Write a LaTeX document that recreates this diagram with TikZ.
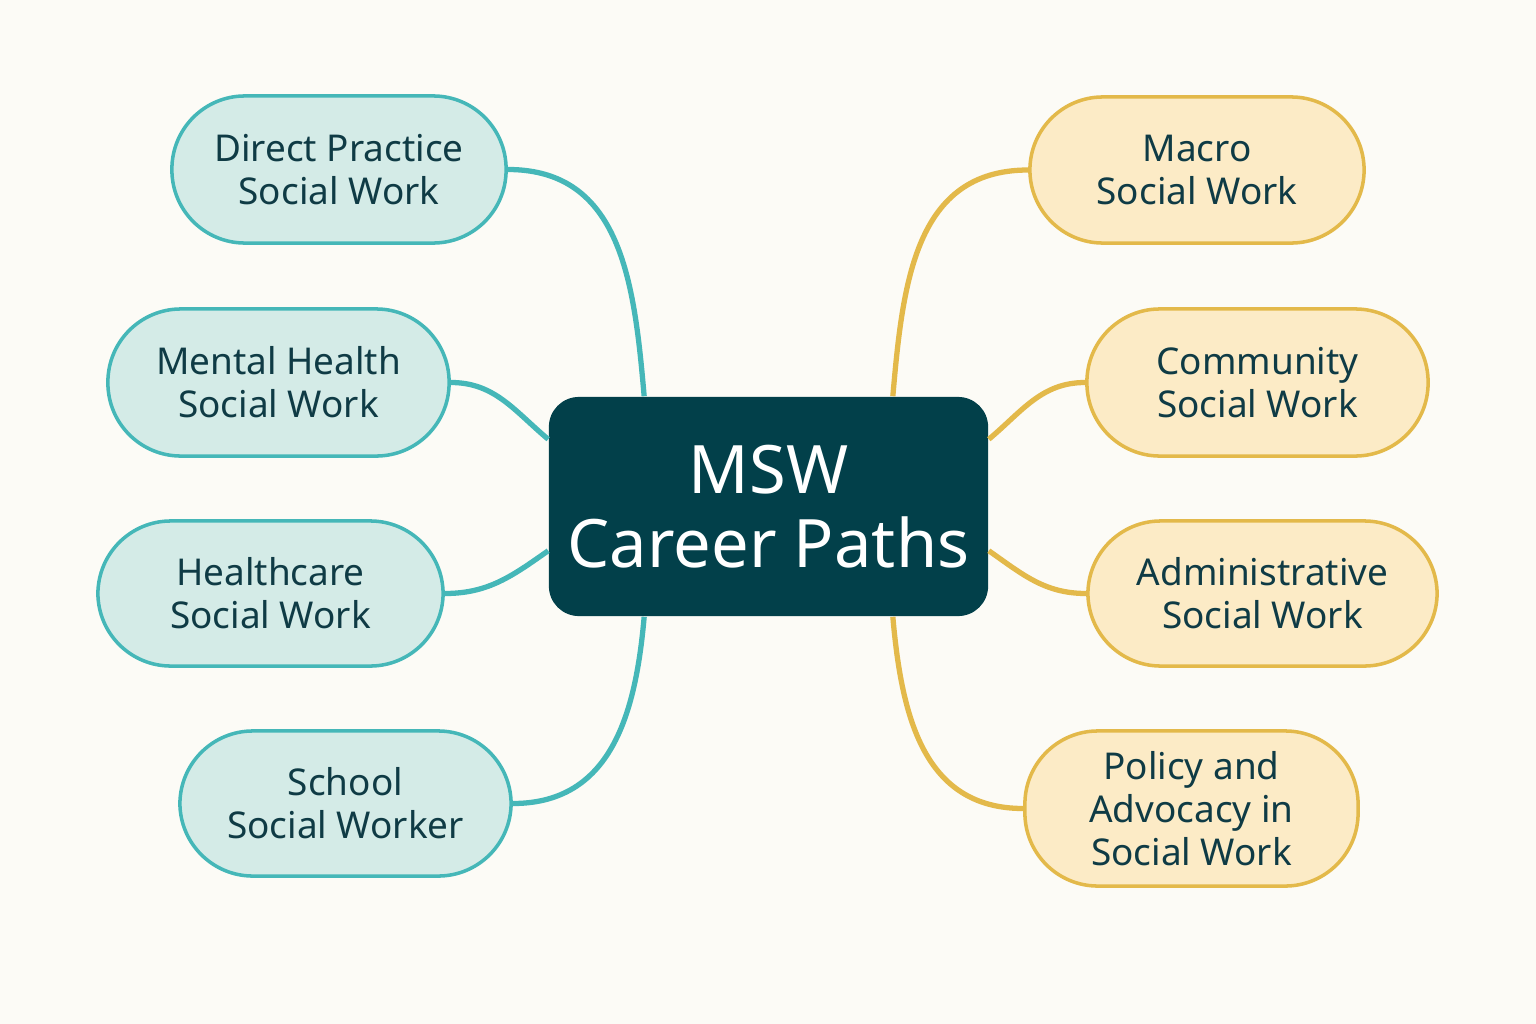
\documentclass[tikz,border=0pt]{standalone}
\usepackage{fontspec}
\setmainfont{Noto Sans}
\usetikzlibrary{calc}
\definecolor{bg}{HTML}{FCFBF6}
\definecolor{ctr}{HTML}{02404A}
\definecolor{tfill}{HTML}{D4EBE7}
\definecolor{tline}{HTML}{45B7B8}
\definecolor{yfill}{HTML}{FCEBC6}
\definecolor{yline}{HTML}{E3B94A}
\definecolor{txt}{HTML}{0F3B45}
\begin{document}
\begin{tikzpicture}[x=0.01cm,y=-0.01cm,
  leaf/.style={rounded corners=73*0.01cm, line width=1pt, align=center, font=\fontsize{10.5}{12.3}\selectfont, text=txt, inner sep=0pt},
  tleaf/.style={leaf, draw=tline, fill=tfill},
  yleaf/.style={leaf, draw=yline, fill=yfill},
  tcon/.style={draw=tline, line width=1.5pt},
  ycon/.style={draw=yline, line width=1.5pt}]
\fill[bg] (0,0) rectangle (1536,1024);
\useasboundingbox (0,0) rectangle (1536,1024);
% connectors first
\coordinate (dummy) at (0,0);
\node[fill=ctr, rounded corners=0.3cm, minimum width=4.39cm, minimum height=2.19cm, text=white, align=center, font=\fontsize{19}{23}\selectfont\bfseries, inner sep=0pt] (c) at (768.5,506.5) {\mdseries MSW\\[-2pt]\mdseries Career Paths};
\node[tleaf, minimum width=3.34cm, minimum height=1.47cm] (d) at (339,169.5) {Direct Practice\\Social Work};
\node[tleaf, minimum width=3.41cm, minimum height=1.47cm] (m) at (278.5,382.5) {Mental Health\\Social Work};
\node[tleaf, minimum width=3.45cm, minimum height=1.45cm] (h) at (270.5,593.5) {Healthcare\\Social Work};
\node[tleaf, minimum width=3.31cm, minimum height=1.45cm] (s) at (345.5,803.5) {School\\Social Worker};
\node[yleaf, minimum width=3.34cm, minimum height=1.46cm] (ma) at (1197,170) {Macro\\Social Work};
\node[yleaf, minimum width=3.41cm, minimum height=1.47cm] (co) at (1257.5,382.5) {Community\\Social Work};
\node[yleaf, minimum width=3.49cm, minimum height=1.45cm] (ad) at (1262.5,593.5) {Administrative\\Social Work};
\node[yleaf, minimum width=3.33cm, minimum height=1.55cm] (po) at (1191.5,808.5) {Policy and\\\textbf{Advocacy in}\\Social Work};
\begin{scope}[on background layer/.style={}]
\draw[tcon] (d.east) to[out=0,in=95,looseness=1.1] ($(c.north west)+(96,0)$);
\draw[tcon] (m.east) to[out=0,in=140] ($(c.north west)+(0,43)$);
\draw[tcon] (h.east) to[out=0,in=215] ($(c.south west)+(0,-66)$);
\draw[tcon] (s.east) to[out=0,in=-95,looseness=1.1] ($(c.south west)+(96,0)$);
\draw[ycon] (ma.west) to[out=180,in=85,looseness=1.1] ($(c.north east)+(-96,0)$);
\draw[ycon] (co.west) to[out=180,in=40] ($(c.north east)+(0,43)$);
\draw[ycon] (ad.west) to[out=180,in=-35] ($(c.south east)+(0,-66)$);
\draw[ycon] (po.west) to[out=180,in=-85,looseness=1.1] ($(c.south east)+(-96,0)$);
\end{scope}
\end{tikzpicture}
\end{document}
